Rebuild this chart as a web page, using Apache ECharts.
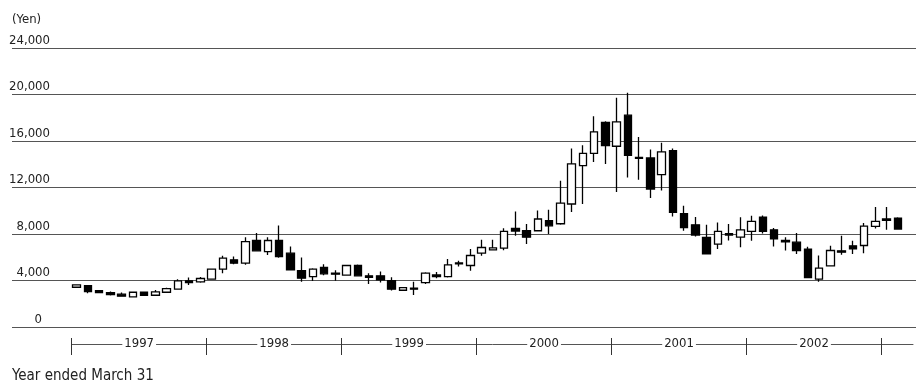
<!DOCTYPE html>
<html><head><meta charset="utf-8">
<script src="https://cdn.jsdelivr.net/npm/echarts@6/dist/echarts.min.js"></script>
<style>html,body{margin:0;padding:0;background:#fff}#c{width:916px;height:385px}</style>
</head><body><div id="c"></div>
<script>
const months = [
 '1996-04','1996-05','1996-06','1996-07','1996-08','1996-09','1996-10','1996-11','1996-12','1997-01','1997-02','1997-03',
 '1997-04','1997-05','1997-06','1997-07','1997-08','1997-09','1997-10','1997-11','1997-12','1998-01','1998-02','1998-03',
 '1998-04','1998-05','1998-06','1998-07','1998-08','1998-09','1998-10','1998-11','1998-12','1999-01','1999-02','1999-03',
 '1999-04','1999-05','1999-06','1999-07','1999-08','1999-09','1999-10','1999-11','1999-12','2000-01','2000-02','2000-03',
 '2000-04','2000-05','2000-06','2000-07','2000-08','2000-09','2000-10','2000-11','2000-12','2001-01','2001-02','2001-03',
 '2001-04','2001-05','2001-06','2001-07','2001-08','2001-09','2001-10','2001-11','2001-12','2002-01','2002-02','2002-03',
 '2002-04','2002-05'
];
const openPrice = [
 3420,3560,3130,2960,2820,2590,2990,2730,2990,3250,3970,3880,
 4110,4980,5780,5490,7440,6490,7440,6350,4850,4340,5120,4630,
 4460,5290,4400,4400,3990,3160,3340,3820,4480,4340,5430,5290,
 6350,6640,6780,8480,8280,8280,9140,8880,10580,13880,14940,17610,
 15550,18220,14600,14540,13100,15170,9740,8790,7700,7130,8020,7730,
 8220,9460,8360,7440,7300,6700,4110,5260,6550,6980,7010,8650,
 9290,9370
];
const closePrice = [
 3620,3040,2960,2790,2650,2990,2730,3020,3300,3970,3820,4170,
 4980,5920,5490,7350,6550,7440,6060,4910,4200,4980,4570,4540,
 5290,4400,4280,4050,3250,3390,3250,4630,4340,5350,5520,6150,
 6840,6810,8220,8250,7730,9290,8700,10660,14030,14940,16790,15600,
 17650,14770,14510,11870,15060,9860,8560,7910,6290,8220,7910,8360,
 9080,8220,7590,7330,6580,4250,5060,6580,6440,6730,8680,9080,
 9170,8420
];
const lowPrice = [
 3380,2900,2900,2720,2600,2560,2700,2700,2950,3200,3620,3800,
 4080,4630,5400,5350,6500,6200,5950,4850,3900,3950,4450,3970,
 4400,4350,3700,3820,3130,3130,2760,3700,4200,4250,5200,4830,
 6120,6600,6600,7850,7150,8250,7990,8800,9890,10580,14200,14030,
 11610,12870,12670,11100,11750,9510,8280,7785,6250,6700,7440,6870,
 7410,8050,6920,6580,6290,4200,3900,5200,6210,6290,6350,8480,
 8360,8400
];
const highPrice = [
 3680,3620,3180,3050,2960,3020,3050,3190,3380,4110,4250,4300,
 5000,6120,6070,7730,8080,7730,8730,6920,5970,5050,5400,4880,
 5350,5380,4630,4770,4280,3420,3900,4700,4730,5840,5700,6700,
 7500,7500,8500,9940,8850,10030,10090,12590,15350,15630,18130,17700,
 19720,20150,16350,15260,15840,15350,10430,9455,8790,8990,8850,9450,
 9570,9600,8510,7730,8080,6900,6150,6980,7850,7410,8940,10320,
 10320,9450
];
const yearLabels = ['1997','1998','1999','2000','2001','2002'];
const yearTickMonths = [0,12,24,36,48,60,72];
const yearLabelMonths = [6,18,30,42,54,66];

const FONT = '"Liberation Sans Narrow","Arial Narrow","DejaVu Sans Condensed","Roboto Condensed","Liberation Sans",sans-serif';
const TXT = '#222';

const candleData = months.map((m, i) => [openPrice[i], closePrice[i], lowPrice[i], highPrice[i]]);

const chart = echarts.init(document.getElementById('c'), null, {renderer: 'canvas'});
chart.setOption({
  animation: false,
  backgroundColor: '#fff',
  textStyle: {fontFamily: FONT, color: TXT},
  title: [
    {text: '(Yen)', left: 12, top: 13, padding: 0, textStyle: {fontFamily: FONT, fontSize: 13, fontWeight: 'normal', color: TXT}},
    {text: 'Year ended March 31', left: 12, top: 369, padding: 0, textStyle: {fontFamily: FONT, fontSize: 15, fontWeight: 'normal', color: TXT}}
  ],
  grid: [
    {left: 71, width: 832.5, top: 48, bottom: 58},
    {left: 12, right: 0, top: 48, bottom: 58},
    {left: 71.7, right: 3, top: 343, height: 1}
  ],
  xAxis: [
    {gridIndex: 0, type: 'category', data: months, boundaryGap: true, show: false},
    {gridIndex: 1, type: 'value', show: false, min: 0, max: 1},
    {gridIndex: 2, type: 'value', min: 0, max: 74.8, position: 'bottom',
     axisLine: {show: true, lineStyle: {color: '#555', width: 1}},
     axisTick: {show: true, customValues: yearTickMonths, length: 11, lineStyle: {color: '#333', width: 1}},
     axisLabel: {show: true, customValues: yearLabelMonths, margin: 0, verticalAlign: 'middle',
       formatter: v => yearLabels[Math.round((v - 6) / 12)],
       fontFamily: FONT, fontSize: 13, color: TXT, backgroundColor: '#fff', padding: [0, 2]},
     splitLine: {show: false}},
    {gridIndex: 2, type: 'value', min: 0, max: 74.8, position: 'bottom',
     axisLine: {show: false},
     axisTick: {show: true, inside: true, customValues: yearTickMonths, length: 6, lineStyle: {color: '#333', width: 1}},
     axisLabel: {show: false}, splitLine: {show: false}}
  ],
  yAxis: [
    {gridIndex: 0, type: 'value', min: 0, max: 24000, interval: 4000, show: false},
    {gridIndex: 1, type: 'value', min: 0, max: 24000, interval: 4000,
     axisLine: {show: false}, axisTick: {show: false},
     splitLine: {show: true, lineStyle: {color: '#555', width: 1}},
     axisLabel: {inside: true, align: 'right', margin: 38, verticalAlign: 'bottom',
       fontFamily: FONT, fontSize: 13, color: TXT, padding: [0, 0, 1, 0],
       formatter: v => v === 0 ? '{z|0}' : v.toLocaleString('en-US'),
       rich: {z: {fontFamily: FONT, fontSize: 13, color: TXT, padding: [0, 8, 0, 0]}}}},
    {gridIndex: 2, type: 'value', show: false, min: 0, max: 1}
  ],
  series: [{
    type: 'candlestick',
    xAxisIndex: 0, yAxisIndex: 0,
    data: candleData,
    barWidth: 8,
    itemStyle: {color: '#fff', color0: '#000', borderColor: '#000', borderColor0: '#000', borderWidth: 1.3}
  }]
});
</script></body></html>
